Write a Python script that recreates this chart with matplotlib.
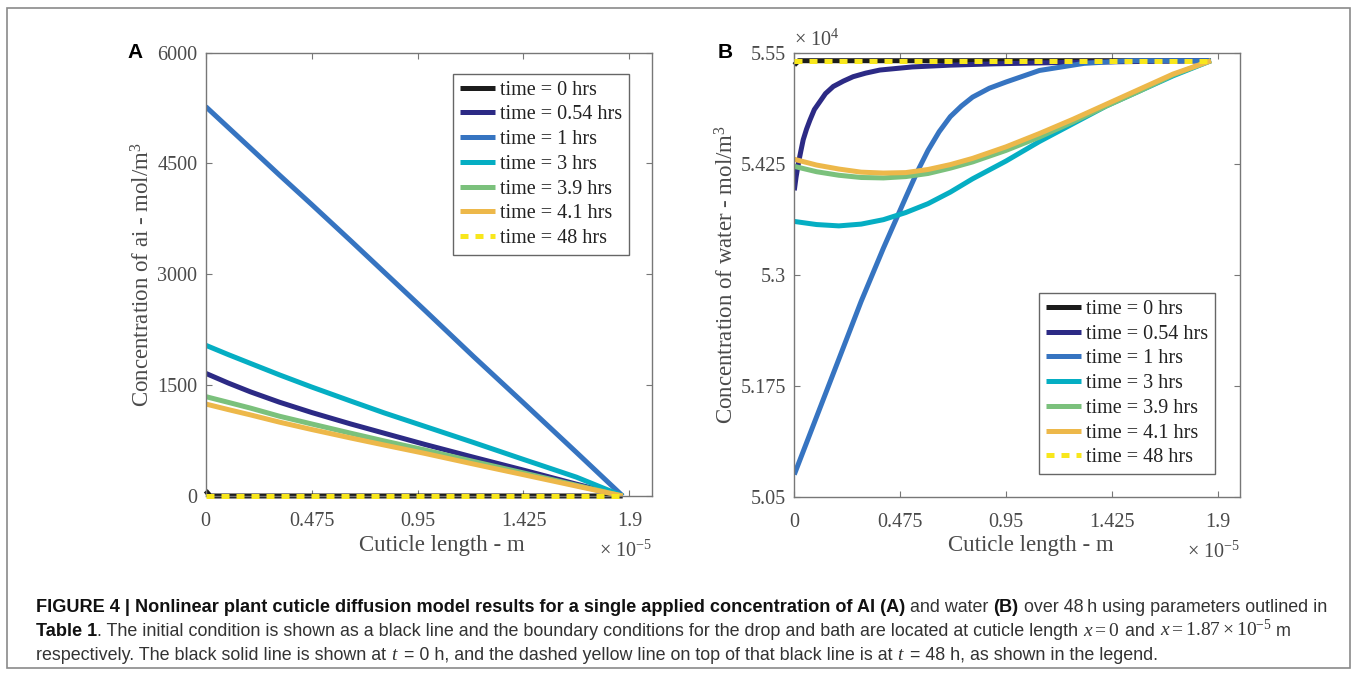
import numpy as np
import matplotlib
matplotlib.use("Agg")
import matplotlib.pyplot as plt
from matplotlib.patches import Rectangle

plt.rcParams.update({
    "font.family": ["Liberation Serif", "DejaVu Serif"],
    "mathtext.fontset": "custom",
    "mathtext.rm": "Liberation Serif",
    "mathtext.it": "Liberation Serif:italic",
    "mathtext.bf": "Liberation Serif:bold",
})

labels = ["time = 0 hrs", "time = 0.54 hrs", "time = 1 hrs", "time = 3 hrs",
          "time = 3.9 hrs", "time = 4.1 hrs", "time = 48 hrs"]
colors = ["#1c1c1c", "#2c2a85", "#3674c1", "#05aec3", "#7bc17c", "#edb84a", "#f8e71c"]

# panel A: x in 1e-5 m, ai concentration in mol/m^3
xa = [0, 0.1, 0.2, 0.33, 0.475, 0.65, 0.8, 0.98, 1.2, 1.425, 1.6625, 1.87]
xa_flat = [0, 0.02, 1.87]
ai_0h = [70, 0, 0]
ai_054h = [1660, 1530, 1410, 1270, 1130, 975, 850, 700, 525, 350, 160, 0]
ai_1h = [5270, 4990, 4710, 4345, 3945, 3455, 3030, 2520, 1890, 1260, 590, 0]
ai_3h = [2040, 1915, 1795, 1640, 1475, 1285, 1125, 945, 725, 495, 255, 0]
ai_39h = [1345, 1268, 1190, 1080, 975, 850, 745, 625, 468, 312, 145, 0]
ai_41h = [1245, 1170, 1098, 1000, 900, 785, 690, 578, 433, 288, 134, 0]
ai_48h = [0, 0]

# panel B: water concentration in 1e4 mol/m^3
xb = [0, 0.1, 0.2, 0.3, 0.4, 0.5, 0.6, 0.7, 0.8, 0.95, 1.1, 1.25, 1.4, 1.55, 1.7, 1.87]
xb_054 = [0, 0.008, 0.018, 0.03, 0.04, 0.055, 0.07, 0.09, 0.115, 0.14, 0.175, 0.22,
          0.264, 0.32, 0.384, 0.53, 0.7, 0.9, 1.2, 1.5, 1.87]
xb_1h = [0, 0.1, 0.2, 0.3, 0.4, 0.5, 0.55, 0.6, 0.65, 0.7, 0.75, 0.8, 0.875, 0.95,
         1.1, 1.3, 1.5, 1.87]
w_0h = [5.5362, 5.541, 5.541]
w_054h = [5.395, 5.410, 5.425, 5.440, 5.452, 5.464, 5.474, 5.486, 5.495, 5.504, 5.512,
          5.518, 5.523, 5.527, 5.5305, 5.534, 5.536, 5.5375, 5.539, 5.540, 5.541]
w_1h = [5.075, 5.140, 5.205, 5.270, 5.330, 5.387, 5.415, 5.440, 5.461, 5.478, 5.490,
        5.500, 5.510, 5.517, 5.530, 5.538, 5.541, 5.541]
w_3h = [5.360, 5.3565, 5.355, 5.357, 5.362, 5.370, 5.380, 5.393, 5.408, 5.428, 5.450,
        5.470, 5.490, 5.507, 5.524, 5.541]
w_39h = [5.422, 5.416, 5.412, 5.4095, 5.409, 5.4105, 5.414, 5.420, 5.427, 5.440, 5.455,
         5.472, 5.490, 5.507, 5.525, 5.541]
w_41h = [5.430, 5.4235, 5.419, 5.4155, 5.4145, 5.415, 5.4185, 5.424, 5.431, 5.444, 5.459,
         5.475, 5.492, 5.509, 5.526, 5.541]
w_48h = [5.541, 5.541]

xticks = [0, 0.475, 0.95, 1.425, 1.9]
xticklabels = ["0", "0.475", "0.95", "1.425", "1.9"]
a_yticks = [0, 1500, 3000, 4500, 6000]
b_yticks = [5.05, 5.175, 5.3, 5.425, 5.55]
b_yticklabels = ["5.05", "5.175", "5.3", "5.425", "5.55"]

LW = 3.6
TICKC = "#4a4a4a"
DASH = (0, (1.6, 1.4))


def draw_panel(ax, series):
    for i, (x, y) in enumerate(series):
        if i == 6:
            ax.plot(x, y, color=colors[i], lw=LW, linestyle=DASH, label=labels[i],
                    dash_capstyle="butt", zorder=5, clip_on=False)
        else:
            ax.plot(x, y, color=colors[i], lw=LW, label=labels[i],
                    solid_capstyle="butt", zorder=2 + i * 0.1, clip_on=(i != 0))
    ax.set_xlim(0, 2.0)
    ax.set_xticks(xticks)
    ax.set_xticklabels(xticklabels)
    ax.tick_params(direction="in", length=4.5, width=0.8, colors="#777777",
                   labelcolor=TICKC, labelsize=14.5, top=True, right=True, pad=6)
    ax.tick_params(axis="x", pad=11.5)
    for s in ax.spines.values():
        s.set_color("#777777")
        s.set_linewidth(1.0)
    ax.set_xlabel("Cuticle length - m", fontsize=16.5, color=TICKC)
    ax.xaxis.set_label_coords(0.53, -0.087)
    ax.text(1.0, -0.125, "× 10$^{-5}$", transform=ax.transAxes, ha="right", va="center",
            fontsize=14.5, color=TICKC)


def legend(ax, loc, anchor):
    lg = ax.legend(loc=loc, bbox_to_anchor=anchor, fontsize=14.5, handlelength=1.75,
                   handletextpad=0.25, labelspacing=0.28, borderpad=0.33,
                   borderaxespad=0, fancybox=False, framealpha=1)
    lg.get_frame().set_edgecolor("#666666")
    lg.get_frame().set_linewidth(1.0)
    lg.set_zorder(10)
    for t in lg.get_texts():
        t.set_color("#222222")


fig = plt.figure(figsize=(13.58, 6.75), dpi=100)

ax1 = fig.add_axes([0.1515, 0.2652, 0.3284, 0.6568])
draw_panel(ax1, [(xa_flat, ai_0h), (xa, ai_054h), (xa, ai_1h), (xa, ai_3h),
                 (xa, ai_39h), (xa, ai_41h), ([0, 1.87], ai_48h)])
ax1.set_ylim(0, 6000)
ax1.set_yticks(a_yticks)
ax1.set_ylabel("Concentration of ai - mol/m$^3$", fontsize=16.5, color=TICKC)
ax1.yaxis.set_label_coords(-0.114, 0.5)
legend(ax1, "upper right", (0.949, 0.952))

ax2 = fig.add_axes([0.5849, 0.2641, 0.3282, 0.6578])
draw_panel(ax2, [(xa_flat, w_0h), (xb_054, w_054h), (xb_1h, w_1h), (xb, w_3h),
                 (xb, w_39h), (xb, w_41h), ([0, 1.87], w_48h)])
ax2.set_ylim(5.05, 5.55)
ax2.set_yticks(b_yticks)
ax2.set_yticklabels(b_yticklabels)
ax2.set_ylabel("Concentration of water - mol/m$^3$", fontsize=16.5, color=TICKC)
ax2.yaxis.set_label_coords(-0.126, 0.5)
ax2.text(0.0, 1.005, "× 10$^4$", transform=ax2.transAxes, ha="left", va="bottom",
         fontsize=14.5, color=TICKC)
legend(ax2, "lower right", (0.944, 0.051))

fig.text(127 / 1358, 1 - 52 / 675, "A", fontsize=15, fontweight="bold",
         family="Liberation Sans", va="center", ha="left")
fig.text(718 / 1358, 1 - 52 / 675, "B", fontsize=15, fontweight="bold",
         family="Liberation Sans", va="center", ha="left")

# outer frame
fig.add_artist(Rectangle((7 / 1358, 7 / 675), 1343 / 1358, 660 / 675, transform=fig.transFigure,
                         fill=False, edgecolor="#8a8a8a", lw=1.2))

# caption
cap_font = ["Liberation Sans"]
cap_lines = [
    [("FIGURE 4 | Nonlinear plant cuticle diffusion model results for a single applied concentration of AI (A)", "bold"),
     (" and water ", "normal"), ("(B)", "bold"),
     (" over 48\u2009h using parameters outlined in", "normal")],
    [("Table 1", "bold"),
     (". The initial condition is shown as a black line and the boundary conditions for the drop and bath are located at cuticle length ", "normal"),
     ("$x = 0$", "math"), (" and ", "normal"), ("$x = 1.87 \\times 10^{-5}$", "math"), (" m", "normal")],
    [("respectively. The black solid line is shown at ", "normal"), ("$t$", "math"),
     (" = 0 h, and the dashed yellow line on top of that black line is at ", "normal"),
     ("$t$", "math"), (" = 48 h, as shown in the legend.", "normal")],
]
cap_y = [612, 636, 660]

renderer = fig.canvas.get_renderer()
for pieces, yy in zip(cap_lines, cap_y):
    xpx = 36
    for s, kind in pieces:
        kw = dict(fontsize=12.9, va="baseline", ha="left")
        if kind == "math":
            kw.update(color="#333333", fontsize=14)
        elif kind == "bold":
            kw.update(family=cap_font, fontweight="bold", color="#111111", fontsize=13.1)
        else:
            kw.update(family=cap_font, color="#333333")
        t = fig.text(xpx / 1358, 1 - yy / 675, s, **kw)
        xpx += t.get_window_extent(renderer).width

fig.savefig("out.png", dpi=100)
